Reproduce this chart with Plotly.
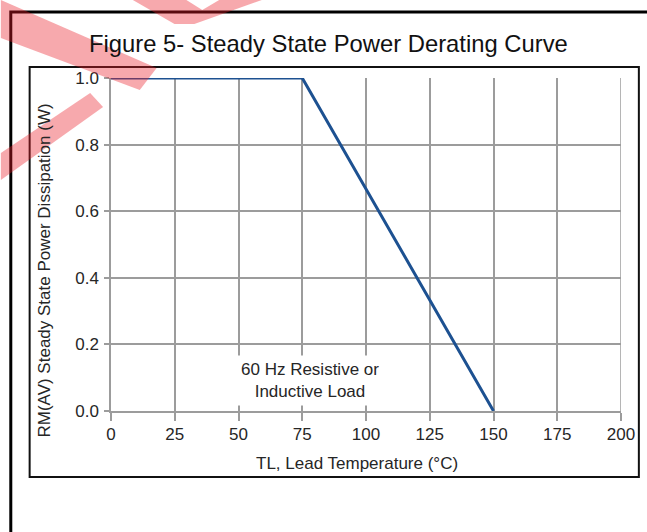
import plotly.graph_objects as go

# ---- data ----
temp_c = [0, 75, 150]
power_w = [1.0, 1.0, 0.0]
x_ticks = [0, 25, 50, 75, 100, 125, 150, 175, 200]
y_ticks = [0.0, 0.2, 0.4, 0.6, 0.8, 1.0]
y_tick_text = ["0.0", "0.2", "0.4", "0.6", "0.8", "1.0"]
title_text = "Figure 5- Steady State Power Derating Curve"
x_title = "TL, Lead Temperature (°C)"
y_title = "RM(AV) Steady State Power Dissipation (W)"
note_text = "60 Hz Resistive or<br>Inductive Load"

W, H = 647, 532
L, R, T, B = 111, 22, 78, 121
PW, PH = W - L - R, H - T - B

def px(x):
    return (x - L) / PW

def py(y):
    return (H - B - y) / PH

FONT = "Liberation Sans, Arial, sans-serif"
FS = 17
TXT = "#262626"
GRID = "#9c9c9c"

fig = go.Figure()
fig.add_trace(go.Scatter(x=temp_c, y=power_w, mode="lines",
                         line=dict(color="#1d5191", width=3), hoverinfo="skip"))

fig.update_xaxes(range=[0, 200], tickvals=x_ticks, showgrid=True, gridcolor=GRID, gridwidth=1.5,
                 zeroline=False, showline=True, linecolor=GRID, linewidth=1.5,
                 ticks="outside", ticklen=8, tickcolor=GRID, tickwidth=1.5,
                 ticklabelstandoff=-1,
                 tickfont=dict(family=FONT, size=FS, color=TXT))
fig.update_yaxes(range=[0, 1.0], tickvals=y_ticks, ticktext=y_tick_text, showgrid=True,
                 gridcolor=GRID, gridwidth=1.5, zeroline=False, showline=True, linecolor=GRID,
                 linewidth=1.5, ticks="outside", ticklen=5, tickcolor=GRID, tickwidth=1.5,
                 ticklabelstandoff=2,
                 tickfont=dict(family=FONT, size=FS, color=TXT))

shapes = []
shapes.append(dict(type="line", xref="x", yref="paper", x0=200, x1=200, y0=0, y1=1,
                   line=dict(color=GRID, width=1.5), layer="below"))
# inner box
shapes.append(dict(type="rect", xref="paper", yref="paper", x0=px(29), x1=px(643), y0=py(67), y1=py(477),
                   line=dict(color="#111", width=2), layer="above"))
# outer frame
shapes.append(dict(type="rect", xref="paper", yref="paper", x0=px(10), x1=px(720), y0=py(12), y1=py(620),
                   line=dict(color="#000", width=3), layer="above"))

def poly(pts):
    d = "M " + " L ".join(f"{px(a):.5f},{py(b):.5f}" for a, b in pts) + " Z"
    return dict(type="path", xref="paper", yref="paper", path=d,
                fillcolor="rgba(235,30,40,0.38)", line=dict(width=0), layer="above")

# watermark strokes
shapes.append(poly([(0, 0), (157, 68), (140, 90), (0, 38)]))
shapes.append(poly([(0, 153), (90, 93), (103, 107), (0, 180)]))
shapes.append(poly([(133, 0), (187, 0), (203, 10), (220, 0), (263, 0), (195, 24), (175, 24)]))

annotations = [
    dict(text=title_text, xref="paper", yref="paper", x=px(330), y=py(43), xanchor="center",
         yanchor="middle", showarrow=False, font=dict(family=FONT, size=23.8, color="#111")),
    dict(text=x_title, xref="paper", yref="paper", x=px(359), y=py(463), xanchor="center",
         yanchor="middle", showarrow=False, font=dict(family=FONT, size=FS, color=TXT)),
    dict(text=y_title, xref="paper", yref="paper", x=px(43), y=py(271), xanchor="center",
         yanchor="middle", textangle=-90, showarrow=False, font=dict(family=FONT, size=FS, color=TXT)),
    dict(text=note_text, xref="x", yref="y", x=78.2, y=0.092, xanchor="center", yanchor="middle",
         showarrow=False, bgcolor="white", borderpad=4,
         font=dict(family=FONT, size=FS, color=TXT)),
]

fig.update_layout(width=W, height=H, margin=dict(l=L, r=R, t=T, b=B, pad=0),
                  paper_bgcolor="white", plot_bgcolor="white", showlegend=False,
                  shapes=shapes, annotations=annotations)

fig.write_html("out.html", config={"displayModeBar": False},
               post_script="document.body.style.margin='0px';")
